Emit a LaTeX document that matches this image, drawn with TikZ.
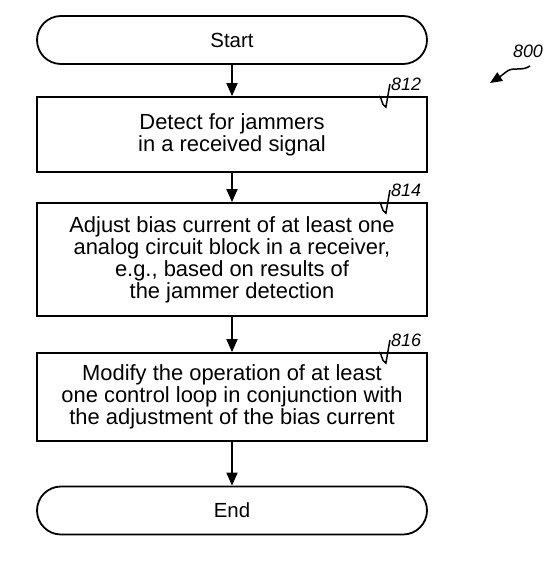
\documentclass[tikz,border=0pt]{standalone}
\usepackage{fontspec}
\setmainfont{Liberation Sans}
\usetikzlibrary{arrows.meta,positioning}
\tikzset{
  term/.style={draw, line width=1.8bp, rounded corners=24bp, minimum width=390bp, minimum height=48bp, font=\fontsize{20.5}{22}\selectfont},
  stepbox/.style={draw, line width=1.8bp, minimum width=390bp, align=center, font=\fontsize{22}{22}\selectfont, inner sep=0pt},
  flow/.style={line width=1.8bp, -{Triangle[width=11bp,length=13bp]}},
  reflabel/.style={font=\fontsize{18}{20}\selectfont\itshape, inner sep=1bp, anchor=west},
  leader/.style={line width=1.5bp}
}
\begin{document}
\begin{tikzpicture}[x=1bp,y=-1bp]
\useasboundingbox (0,0) rectangle (556,580);
\node[term] (start) at (232,40) {Start};
\node[stepbox, minimum height=75bp] (b812) at (232,134.5) {Detect for jammers\\in a received signal};
\node[stepbox, minimum height=113bp] (b814) at (232,259.5) {Adjust bias current of at least one\\analog circuit block in a receiver,\\e.g., based on results of\\the jammer detection};
\node[stepbox, minimum height=88bp] (b816) at (232,397) {Modify the operation of at least\\one control loop in conjunction with\\the adjustment of the bias current};
\node[term] (end) at (232,510.5) {End};

\draw[flow] (start) -- (b812);
\draw[flow] (b812) -- (b814);
\draw[flow] (b814) -- (b816);
\draw[flow] (b816) -- (end);

\foreach \b/\t in {b812/812, b814/814, b816/816}{
  \node[reflabel] (l\t) at ([xshift=-38bp,yshift=12bp]\b.north east) {\t};
  \coordinate (p\t) at ([xshift=-49bp]\b.north east);
  \draw[leader] (p\t) .. controls ([xshift=3bp]p\t) and ([xshift=2bp,yshift=-9bp]p\t) .. ([xshift=7bp,yshift=-11bp]p\t) -- (l\t.west);
}

\node[font=\fontsize{18}{20}\selectfont\itshape, inner sep=1bp] (l800) at (528,51) {800};
\coordinate (t800) at (530,66);
\coordinate (h800) at (490,83);
\draw[line width=1.5bp, -{Triangle[width=10bp,length=12bp]}] (t800) .. controls (521,72) and (513,66) .. (506,72) .. controls (501,76) .. (h800);
\end{tikzpicture}
\end{document}
